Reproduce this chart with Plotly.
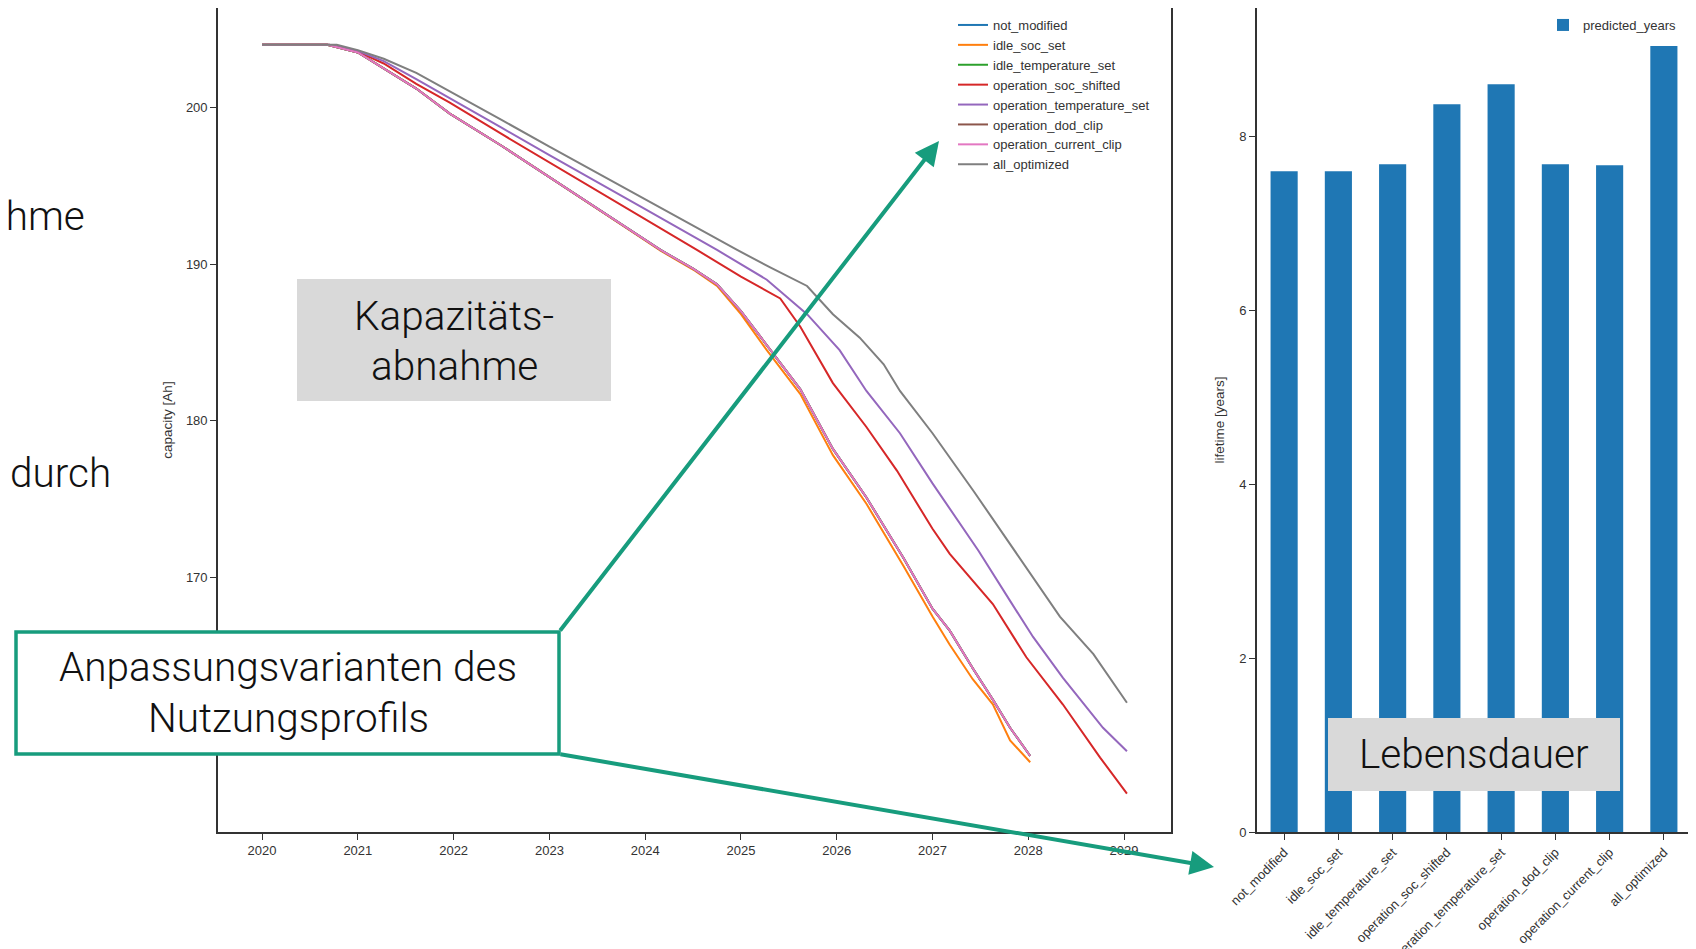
import plotly.graph_objects as go

W, H = 1696, 949

# ---------------- data ----------------
series_names = ["not_modified", "idle_soc_set", "idle_temperature_set",
                "operation_soc_shifted", "operation_temperature_set",
                "operation_dod_clip", "operation_current_clip", "all_optimized"]
series_colors = ["#1f77b4", "#ff7f0e", "#2ca02c", "#d62728",
                 "#9467bd", "#8c564b", "#e377c2", "#7f7f7f"]

years_base = [2020.0, 2020.68, 2021.0, 2021.27, 2021.61, 2021.96, 2022.5, 2023.0,
              2023.5, 2024.0, 2024.16, 2024.5, 2024.75, 2025.0, 2025.27, 2025.62,
              2025.96, 2026.31, 2026.7, 2027.0, 2027.18, 2027.42, 2027.63, 2027.81,
              2028.02]
not_modified = [204.0, 204.0, 203.5, 202.5, 201.2, 199.6, 197.55, 195.55, 193.55, 191.5,
                190.9, 189.7, 188.7, 187.0, 184.8, 182.0, 178.2, 175.1, 171.2, 168.0,
                166.6, 164.2, 162.2, 160.4, 158.6]
idle_soc_set = [204.0, 204.0, 203.5, 202.5, 201.2, 199.6, 197.55, 195.55, 193.55, 191.5,
                190.85, 189.65, 188.6, 186.8, 184.5, 181.7, 177.8, 174.7, 170.7, 167.5,
                165.7, 163.5, 161.9, 159.6, 158.2]
idle_temperature_set = [204.0, 204.0, 203.5, 202.5, 201.2, 199.6, 197.55, 195.55, 193.55,
                        191.5, 190.9, 189.7, 188.7, 187.0, 184.8, 182.0, 178.2, 175.1,
                        171.2, 168.0, 166.6, 164.2, 162.2, 160.4, 158.6]
operation_dod_clip = [204.0, 204.0, 203.5, 202.5, 201.2, 199.6, 197.55, 195.55, 193.55,
                      191.5, 190.9, 189.7, 188.7, 187.0, 184.8, 182.0, 178.2, 175.1,
                      171.2, 168.0, 166.6, 164.2, 162.2, 160.4, 158.6]
operation_current_clip = [204.0, 204.0, 203.5, 202.5, 201.2, 199.6, 197.55, 195.55, 193.55,
                          191.5, 190.9, 189.7, 188.7, 187.0, 184.8, 182.0, 178.2, 175.1,
                          171.2, 168.0, 166.6, 164.2, 162.2, 160.4, 158.6]

years_soc_shifted = [2020.0, 2020.7, 2021.0, 2021.27, 2021.61, 2021.96, 2022.5, 2023.0,
                     2023.5, 2024.0, 2024.54, 2025.0, 2025.41, 2025.62, 2025.96, 2026.31,
                     2026.63, 2027.0, 2027.18, 2027.63, 2027.98, 2028.36, 2028.75, 2029.03]
operation_soc_shifted = [204.0, 204.0, 203.55, 202.8, 201.5, 200.3, 198.3, 196.5, 194.7,
                         192.85, 190.9, 189.2, 187.8, 186.0, 182.4, 179.6, 176.8, 173.1,
                         171.5, 168.3, 164.9, 161.9, 158.5, 156.2]

years_temp_set = [2020.0, 2020.7, 2021.0, 2021.27, 2021.61, 2021.96, 2022.5, 2023.0,
                  2023.5, 2024.0, 2024.75, 2025.27, 2025.69, 2026.03, 2026.31, 2026.66,
                  2027.0, 2027.48, 2027.81, 2028.05, 2028.36, 2028.78, 2029.03]
operation_temperature_set = [204.0, 204.0, 203.6, 202.95, 201.8, 200.6, 198.7, 196.95,
                             195.2, 193.5, 190.9, 189.0, 186.8, 184.5, 181.9, 179.2,
                             176.0, 171.7, 168.5, 166.2, 163.6, 160.4, 158.9]

years_all = [2020.0, 2020.78, 2021.0, 2021.27, 2021.61, 2021.96, 2022.5, 2023.0, 2023.5,
             2024.0, 2024.5, 2024.96, 2025.3, 2025.69, 2025.96, 2026.24, 2026.49, 2026.66,
             2027.0, 2027.43, 2027.86, 2028.33, 2028.68, 2029.03]
all_optimized = [204.0, 204.0, 203.65, 203.1, 202.2, 201.0, 199.2, 197.5, 195.8, 194.1,
                 192.45, 190.9, 189.8, 188.6, 186.8, 185.3, 183.6, 181.9, 179.2, 175.5,
                 171.7, 167.5, 165.1, 162.0]

line_x = [years_base, years_base, years_base, years_soc_shifted, years_temp_set,
          years_base, years_base, years_all]
line_y = [not_modified, idle_soc_set, idle_temperature_set, operation_soc_shifted,
          operation_temperature_set, operation_dod_clip, operation_current_clip,
          all_optimized]

year_ticks = [2020, 2021, 2022, 2023, 2024, 2025, 2026, 2027, 2028, 2029]
capacity_ticks = [160, 170, 180, 190, 200]

predicted_years = [7.6, 7.6, 7.68, 8.37, 8.6, 7.68, 7.67, 9.04]
lifetime_ticks = [0, 2, 4, 6, 8]

# ---------------- helpers (page pixel -> paper; page body has an 8px margin) ----------------
OFF = 8

def px(x):
    return min(1.0, max(0.0, (x - OFF) / W))

def py(y):
    return min(1.0, max(0.0, 1 - (y - OFF) / H))

FONT = "Liberation Sans, Arial, sans-serif"
SLIDE_FONT = "Roboto, Open Sans, sans-serif"
GREEN = "#179c7d"
AX = "#333333"

fig = go.Figure()

for name, color, xs, ys in zip(series_names, series_colors, line_x, line_y):
    fig.add_trace(go.Scatter(x=xs, y=ys, mode="lines", name=name,
                             line=dict(color=color, width=2),
                             xaxis="x", yaxis="y", legend="legend"))

fig.add_trace(go.Bar(x=series_names, y=predicted_years, name="predicted_years",
                     marker=dict(color="#1f77b4", line=dict(width=0)), width=0.5,
                     xaxis="x2", yaxis="y2", legend="legend2"))

axis_common = dict(showline=True, linecolor=AX, linewidth=1.6, mirror=True,
                   ticks="outside", ticklen=6, tickwidth=1.3, tickcolor=AX,
                   showgrid=False, zeroline=False, automargin=False,
                   tickfont=dict(family=FONT, size=13, color=AX))

fig.update_layout(
    width=W, height=H, autosize=False,
    margin=dict(l=0, r=0, t=0, b=0, autoexpand=False),
    paper_bgcolor="white", plot_bgcolor="white",
    font=dict(family=FONT, size=13, color=AX),
    xaxis=dict(domain=[px(218), px(1171)], range=[2019.54, 2029.49],
               tickmode="array", tickvals=year_ticks, anchor="y", **axis_common),
    yaxis=dict(domain=[py(832), py(8)], range=[153.75, 206.34],
               tickmode="array", tickvals=capacity_ticks, anchor="x",
               title=dict(text="capacity [Ah]", font=dict(family=FONT, size=13.5, color=AX),
                          standoff=10),
               **axis_common),
    xaxis2=dict(domain=[px(1257), px(1691)], range=[-0.5, 7.5], type="category",
                tickangle=-45, anchor="y2", **axis_common),
    yaxis2=dict(domain=[py(832), py(8)], range=[0, 9.478],
                tickmode="array", tickvals=lifetime_ticks, anchor="x2",
                title=dict(text="lifetime [years]", font=dict(family=FONT, size=13.5, color=AX),
                           standoff=12),
                **axis_common),
    legend=dict(x=px(953), y=py(10), xanchor="left", yanchor="top",
                bgcolor="rgba(0,0,0,0)", font=dict(family=FONT, size=13, color=AX),
                itemwidth=30, tracegroupgap=0),
    legend2=dict(x=px(1543), y=py(10), xanchor="left", yanchor="top",
                 bgcolor="rgba(0,0,0,0)", font=dict(family=FONT, size=13, color=AX)),
    showlegend=True,
)

# ---------------- slide overlay ----------------
shapes = [
    dict(type="rect", xref="paper", yref="paper", x0=px(297), x1=px(611),
         y0=py(401), y1=py(279), fillcolor="#d9d9d9", line=dict(width=0), layer="above"),
    dict(type="rect", xref="paper", yref="paper", x0=px(1328), x1=px(1620),
         y0=py(791), y1=py(718), fillcolor="#d9d9d9", line=dict(width=0), layer="above"),
    dict(type="rect", xref="paper", yref="paper", x0=px(16), x1=px(559),
         y0=py(754), y1=py(632), fillcolor="white", line=dict(color=GREEN, width=3.5),
         layer="above"),
]
fig.update_layout(shapes=shapes)

slide_font = dict(family=SLIDE_FONT, size=40.5, color="#111111", weight=300)
slide_texts = [
    ("Kapazitäts-", 454, 316, "center"),
    ("abnahme", 454, 366, "center"),
    ("Lebensdauer", 1474, 754, "center"),
    ("Anpassungsvarianten des", 288, 667, "center"),
    ("Nutzungsprofils", 288, 718, "center"),
    ("ahme", 87, 216, "right"),
    ("durch", 8, 473, "left"),
]
annotations = [
    dict(text=t, x=px(x), y=py(y), xref="paper", yref="paper", showarrow=False,
         font=slide_font, xanchor=anchor, yanchor="middle")
    for t, x, y, anchor in slide_texts
]
annotations += [
    dict(text="", x=px(939), y=py(141), xref="paper", yref="paper", showarrow=True,
         ax=559 - 939, ay=632 - 141, axref="pixel", ayref="pixel",
         arrowhead=2, arrowsize=1.2, arrowwidth=4, arrowcolor=GREEN, standoff=0),
    dict(text="", x=px(1214), y=py(867), xref="paper", yref="paper", showarrow=True,
         ax=559 - 1214, ay=754 - 867, axref="pixel", ayref="pixel",
         arrowhead=2, arrowsize=1.2, arrowwidth=4, arrowcolor=GREEN, standoff=0),
]
fig.update_layout(annotations=annotations)

fig.write_html("out.html")
